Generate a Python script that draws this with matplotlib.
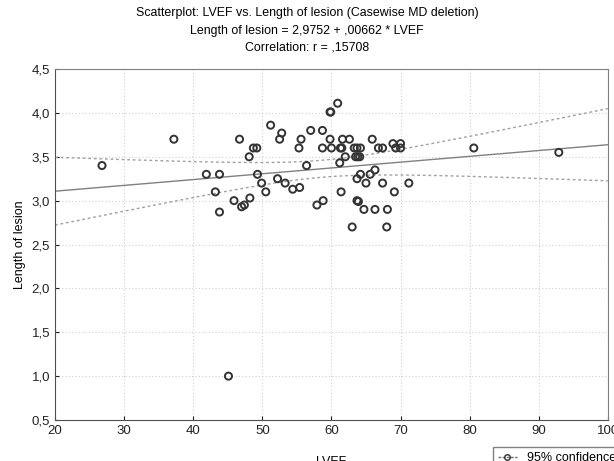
import numpy as np
import matplotlib.pyplot as plt
from matplotlib.lines import Line2D
from matplotlib.ticker import FuncFormatter

plt.rcParams['font.family'] = ['Liberation Sans', 'DejaVu Sans']

# LVEF (x) and length of lesion (y)
lvef = [26.8, 37.2, 41.9, 43.8, 43.2, 43.8, 45.9, 47.0, 47.4, 48.2,
        46.7, 48.1, 48.7, 49.2, 49.3, 49.9, 50.5, 51.2, 52.2, 52.5,
        52.8, 53.3, 54.4, 55.4, 55.3, 55.6, 56.4, 57.0, 57.9, 58.7,
        58.7, 58.8, 59.8, 59.9, 59.8, 60.0, 60.9, 61.2, 61.4, 61.3,
        61.5, 61.6, 62.0, 62.6, 63.0, 63.3, 63.7, 64.2, 63.5, 63.8,
        64.1, 63.7, 63.7, 63.9, 64.2, 64.7, 65.0, 65.6, 65.9, 66.3,
        66.3, 66.8, 67.4, 67.4, 68.1, 68.0, 68.9, 69.1, 69.3, 70.0,
        70.0, 71.2, 80.6, 92.9, 45.1]
lesion = [3.40, 3.70, 3.30, 3.30, 3.10, 2.87, 3.00, 2.93, 2.95, 3.03,
          3.70, 3.50, 3.60, 3.60, 3.30, 3.20, 3.10, 3.86, 3.25, 3.70,
          3.77, 3.20, 3.13, 3.15, 3.60, 3.70, 3.40, 3.80, 2.95, 3.60,
          3.80, 3.00, 4.01, 4.01, 3.70, 3.60, 4.11, 3.43, 3.10, 3.60,
          3.60, 3.70, 3.50, 3.70, 2.70, 3.60, 3.60, 3.60, 3.50, 3.50,
          3.50, 3.25, 3.00, 2.99, 3.30, 2.90, 3.20, 3.30, 3.70, 3.35,
          2.90, 3.60, 3.60, 3.20, 2.90, 2.70, 3.65, 3.10, 3.60, 3.65,
          3.60, 3.20, 3.60, 3.55, 1.00]

intercept = 2.9752
slope = 0.00662

x = np.array(lvef)
y = np.array(lesion)
n = len(x)

# regression line and 95% confidence band for the mean
xs = np.linspace(20, 100, 200)
fit = intercept + slope * xs
resid = y - (intercept + slope * x)
s = np.sqrt(np.sum(resid ** 2) / (n - 2))
sxx = np.sum((x - x.mean()) ** 2)
half = 1.993 * s * np.sqrt(1 / n + (xs - x.mean()) ** 2 / sxx)

fig = plt.figure(figsize=(6.14, 4.61), dpi=100)
ax = fig.add_axes([0.0896, 0.0889, 0.9004, 0.7614])

ax.plot(xs, fit, color='#808080', lw=1)
ax.plot(xs, fit + half, color='#a0a0a0', lw=1, linestyle=(0, (2, 2)))
ax.plot(xs, fit - half, color='#a0a0a0', lw=1, linestyle=(0, (2, 2)))
ax.scatter(x, y, s=26, facecolors='none', edgecolors='#333333', linewidths=1.4, zorder=3)

ax.set_xlim(20, 100)
ax.set_ylim(0.5, 4.5)
ax.set_xticks(np.arange(20, 101, 10))
ax.set_yticks(np.arange(0.5, 4.51, 0.5))
ax.yaxis.set_major_formatter(FuncFormatter(lambda v, p: f'{v:.1f}'.replace('.', ',')))
ax.grid(True, color='#d0d0d0', linestyle=(0, (1, 2)), lw=0.8)
ax.tick_params(direction='in', length=3, labelsize=9.5, colors='#222222')
for side in ['left', 'bottom']:
    ax.spines[side].set_color('#505050')
for side in ['top', 'right']:
    ax.spines[side].set_color('#808080')

ax.set_xlabel('LVEF', fontsize=9, labelpad=14)
ax.set_ylabel('Length of lesion', fontsize=9)

fig.text(0.5, 0.972, 'Scatterplot: LVEF vs. Length of lesion (Casewise MD deletion)',
         ha='center', va='center', fontsize=8.9)
fig.text(0.5, 0.933, 'Length of lesion = 2,9752 + ,00662 * LVEF',
         ha='center', va='center', fontsize=8.9)
fig.text(0.5, 0.896, 'Correlation: r = ,15708',
         ha='center', va='center', fontsize=8.9)

handle = Line2D([], [], color='#707070', lw=1, linestyle=(0, (2, 1)), marker='o',
                markerfacecolor='none', markeredgecolor='#303030', markersize=4)
fig.legend([handle], ['95% confidence'], loc='upper left', bbox_to_anchor=(0.803, 0.03),
           fontsize=9, frameon=True, fancybox=False, edgecolor='#606060',
           handlelength=1.5, borderaxespad=0)

fig.savefig('out.png', dpi=100)
